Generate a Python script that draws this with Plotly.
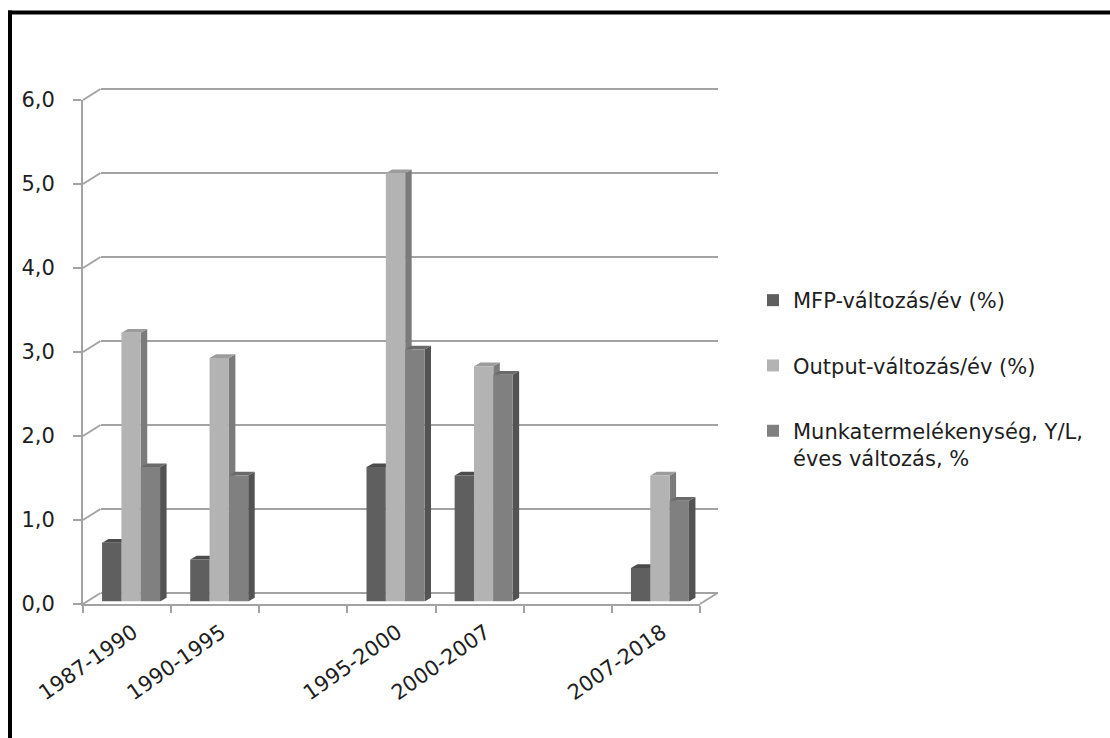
import plotly.graph_objects as go

# ---- data -------------------------------------------------------------
periods = ["1987-1990", "1990-1995", "", "1995-2000", "2000-2007", "", "2007-2018"]
mfp = [0.7, 0.5, None, 1.6, 1.5, None, 0.4]
output = [3.2, 2.9, None, 5.1, 2.8, None, 1.5]
munka = [1.6, 1.5, None, 3.0, 2.7, None, 1.2]
series_names = [
    "MFP-változás/év (%)",
    "Output-változás/év (%)",
    "Munkatermelékenység, Y/L,<br>éves változás, %",
]
y_ticks = [0, 1, 2, 3, 4, 5, 6]

# ---- styling ----------------------------------------------------------
front_colors = ["#5f5f5f", "#b3b3b3", "#808080"]
top_colors = ["#4b4b4b", "#9c9c9c", "#6a6a6a"]
side_colors = ["#404040", "#7b7b7b", "#535353"]
axis_gray = "#a3a3a3"
text_color = "#1e1e1e"
FONT = "DejaVu Sans"

W, H = 1110, 738
# front plane of the box (pixels)
FX0, FX1 = 83, 700
FYTOP, FYBOT = 100, 604
# back wall offset and bar plane offset (pixels)
BDX, BDY = 17.5, 11
PDX, PDY = 4, 2.5
# bar depth (pixels)
DEPTH_X, DEPTH_Y = 6.5, 3.7
BARGAP = 0.342

n = len(periods)
xr = [-0.5, n - 0.5]
yr = [0, 6]
PAD = 0.05  # small overshoot so the edge gridlines of the back wall get drawn


def dom_x(a, b):
    return [a / W, b / W]


def dom_y(top, bot):
    return [1 - bot / H, 1 - top / H]


fig = go.Figure()

# empty traces so the back-wall and front-plane subplots get drawn
for xa, ya in (("x", "y"), ("x2", "y2")):
    fig.add_trace(go.Scatter(x=[], y=[], xaxis=xa, yaxis=ya,
                             showlegend=False, hoverinfo="skip"))

# bars (front faces) on the bar plane
values = [mfp, output, munka]
xs = list(range(n))
for j, (vals, name) in enumerate(zip(values, series_names)):
    fig.add_trace(go.Bar(
        x=xs, y=vals, name=name,
        marker=dict(color=front_colors[j], line=dict(width=0)),
        xaxis="x3", yaxis="y3",
        legendgroup=f"g{j}",
        hoverinfo="skip",
    ))

# top and side faces of each bar, in bar-plane data units
px_per_x = (FX1 - FX0) / (xr[1] - xr[0])
px_per_y = (FYBOT - FYTOP) / (yr[1] - yr[0])
ddx = DEPTH_X / px_per_x
ddy = DEPTH_Y / px_per_y
wd = (1 - BARGAP) / 3

shapes = []
for i in range(n):
    for j, vals in enumerate(values):
        v = vals[i]
        if v is None:
            continue
        left = i + (j - 1.5) * wd
        right = left + wd
        side = (f"M{right},0 L{right},{v} L{right + ddx},{v + ddy} "
                f"L{right + ddx},{ddy} Z")
        top = (f"M{left},{v} L{right},{v} L{right + ddx},{v + ddy} "
               f"L{left + ddx},{v + ddy} Z")
        for path, col in ((side, side_colors[j]), (top, top_colors[j])):
            shapes.append(dict(
                type="path", path=path, xref="x3", yref="y3",
                fillcolor=col, line=dict(width=0), layer="below",
            ))

# side-wall diagonals joining the front axis ticks to the back wall gridlines
px_x = lambda px: px / W
px_y = lambda px: 1 - px / H
for v in y_ticks:
    yf = FYBOT - v * px_per_y
    shapes.append(dict(
        type="line", xref="paper", yref="paper",
        x0=px_x(FX0), y0=px_y(yf), x1=px_x(FX0 + BDX), y1=px_y(yf - BDY),
        line=dict(color=axis_gray, width=2),
    ))
# right floor edge
shapes.append(dict(
    type="line", xref="paper", yref="paper",
    x0=px_x(FX1), y0=px_y(FYBOT), x1=px_x(FX1 + BDX), y1=px_y(FYBOT - BDY),
    line=dict(color=axis_gray, width=2),
))

# outer frame (left and top edges)
shapes.append(dict(type="line", xref="paper", yref="paper",
                   x0=px_x(10), x1=px_x(10), y0=px_y(10.5), y1=0,
                   line=dict(color="black", width=4)))
shapes.append(dict(type="line", xref="paper", yref="paper",
                   x0=px_x(8), x1=1, y0=px_y(12.5), y1=px_y(12.5),
                   line=dict(color="black", width=4)))

label_idx = [i for i, p in enumerate(periods) if p]
pad_px = PAD * px_per_y

fig.update_layout(
    width=W, height=H, autosize=False,
    margin=dict(l=0, r=0, t=0, b=0, autoexpand=False),
    paper_bgcolor="white", plot_bgcolor="rgba(0,0,0,0)",
    separators=", ",
    font=dict(family=FONT, size=21, color=text_color),
    barmode="group", bargap=BARGAP, bargroupgap=0,
    showlegend=True,
    legend=dict(
        x=753 / W, y=1 - 280 / H, xanchor="left", yanchor="top",
        font=dict(family=FONT, size=21, color=text_color),
        tracegroupgap=35, bgcolor="rgba(0,0,0,0)", valign="top",
    ),
    # back wall: gridlines
    xaxis=dict(visible=True, domain=dom_x(FX0 + BDX, FX1 + BDX), range=xr,
               anchor="y", showgrid=False, showline=False, zeroline=False,
               showticklabels=False, ticks="", automargin=False),
    yaxis=dict(visible=True,
               domain=dom_y(FYTOP - BDY - pad_px, FYBOT - BDY + pad_px),
               range=[yr[0] - PAD, yr[1] + PAD],
               anchor="x", showgrid=True, gridcolor=axis_gray, gridwidth=2,
               tickvals=y_ticks, showticklabels=False, ticks="",
               zeroline=False, showline=False, automargin=False),
    # front plane: axis lines, ticks and labels
    xaxis2=dict(visible=True, domain=dom_x(FX0, FX1), range=xr, anchor="y2",
                showline=True, linecolor=axis_gray, linewidth=2,
                showgrid=False, zeroline=False, automargin=False,
                tickvals=label_idx, ticktext=[periods[i] for i in label_idx],
                ticks="", tickangle=-35, ticklabelshift=6,
                ticklabelstandoff=6,
                tickfont=dict(family=FONT, size=21, color=text_color),
                minor=dict(tickvals=[k - 0.5 for k in range(n + 1)],
                           ticks="outside", ticklen=7, tickwidth=2,
                           tickcolor=axis_gray, showgrid=False)),
    yaxis2=dict(visible=True, domain=dom_y(FYTOP, FYBOT), range=yr, anchor="x2",
                showline=True, linecolor=axis_gray, linewidth=2,
                showgrid=False, zeroline=False, automargin=False,
                tickvals=y_ticks, tickformat=".1f",
                ticks="outside", ticklen=8, tickwidth=2, tickcolor=axis_gray,
                ticklabelstandoff=14,
                tickfont=dict(family=FONT, size=21, color=text_color)),
    # bar plane
    xaxis3=dict(domain=dom_x(FX0 + PDX, FX1 + PDX), range=xr, visible=False,
                anchor="y3", automargin=False),
    yaxis3=dict(domain=dom_y(FYTOP - PDY, FYBOT - PDY), range=yr,
                visible=False, anchor="x3", automargin=False),
    shapes=shapes,
)

fig.write_html("out.html")
